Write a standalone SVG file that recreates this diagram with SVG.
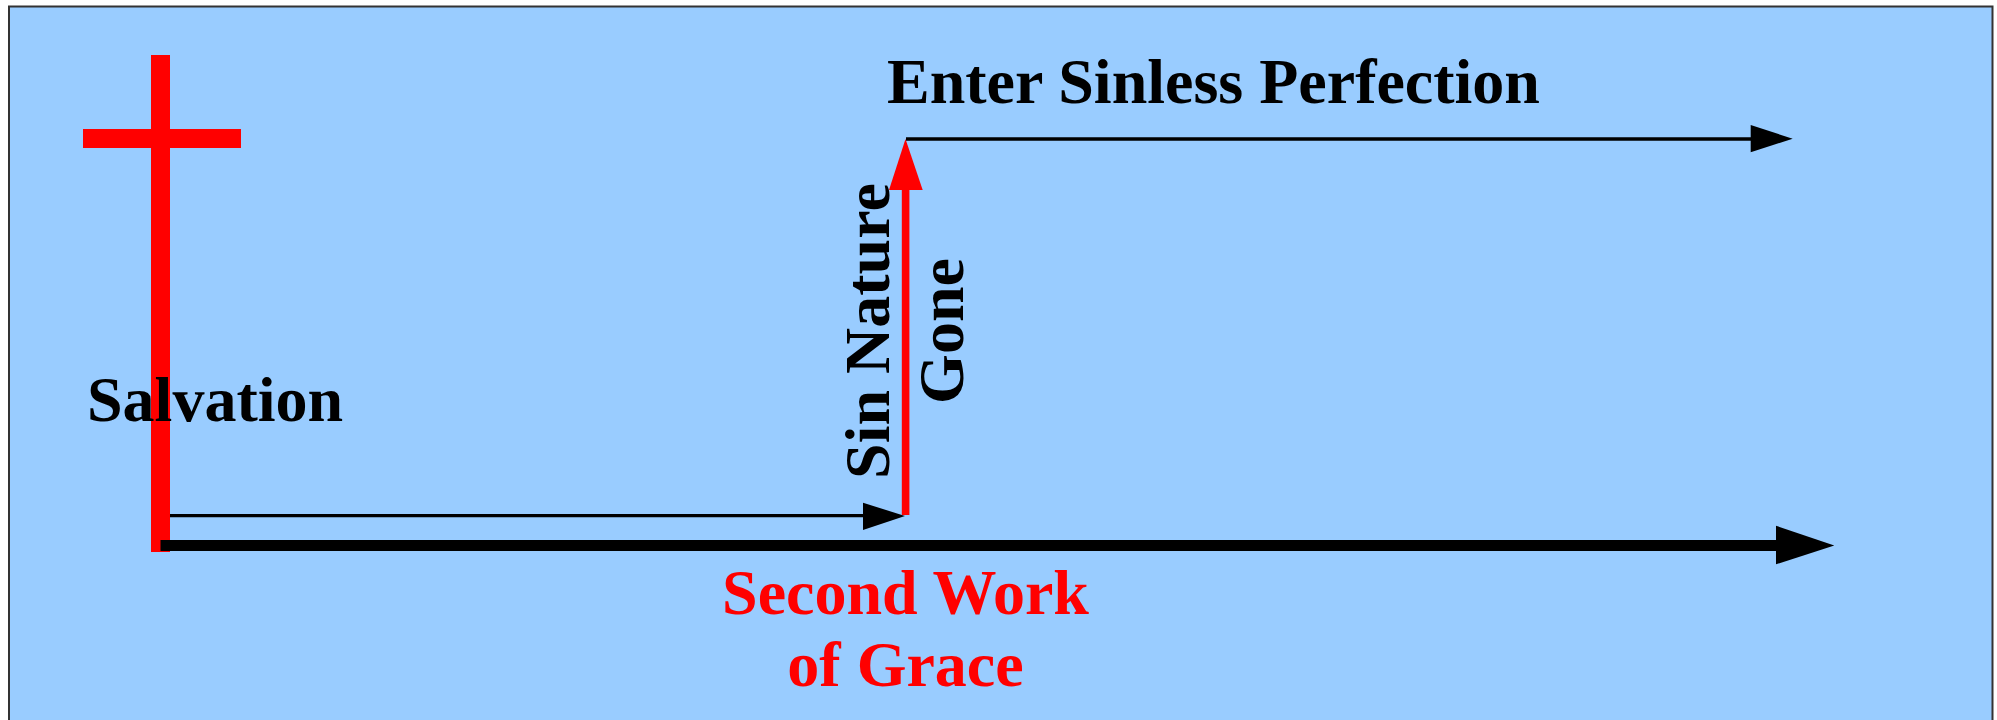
<svg xmlns="http://www.w3.org/2000/svg" width="1997" height="720" viewBox="0 0 1997 720">
<style>
.lbl{font-family:"Liberation Serif","Times New Roman",serif;font-weight:bold;font-size:64px;fill:#000}
.red{fill:#FF0000}
.thin{stroke:#000;stroke-width:3.3;fill:none}
</style>
<rect x="0" y="0" width="1997" height="720" fill="#FFFFFF"/>
<path d="M9,726 V6.5 H1992.5 V726" fill="#99CCFF" stroke="#333" stroke-width="2"/>
<g id="cross">
<rect x="151" y="55" width="19" height="497" class="red"/>
<rect x="83" y="129" width="158" height="19" class="red"/>
</g>
<g id="connectors">
<line x1="170" y1="515.7" x2="866" y2="515.7" class="thin"/>
<polygon points="863,502.7 905,516 863,530" fill="#000"/>
<line x1="906" y1="139" x2="1752" y2="139" class="thin"/>
<polygon points="1750.7,125 1792.7,138.7 1750.7,152.3" fill="#000"/>
<rect x="160.5" y="540" width="1618" height="11" fill="#000"/>
<polygon points="1776,525.7 1834.3,545.5 1776,564.3" fill="#000"/>
<rect x="901.8" y="188" width="7.6" height="327" class="red"/>
<polygon points="889,190 905.5,139 922.7,190" class="red"/>
</g>
<g id="salvation">
<text x="87" y="421" class="lbl">Salvation</text>
</g>
<g id="enter">
<text x="887" y="103" class="lbl">Enter Sinless Perfection</text>
</g>
<g id="sin-nature">
<text transform="translate(889,331) rotate(-90)" text-anchor="middle" class="lbl">Sin Nature</text>
<text transform="translate(962.7,331) rotate(-90)" text-anchor="middle" class="lbl">Gone</text>
</g>
<g id="second-work">
<text x="905.5" y="614" text-anchor="middle" class="lbl red">Second Work</text>
<text x="905.5" y="686" text-anchor="middle" class="lbl red">of Grace</text>
</g>
</svg>
